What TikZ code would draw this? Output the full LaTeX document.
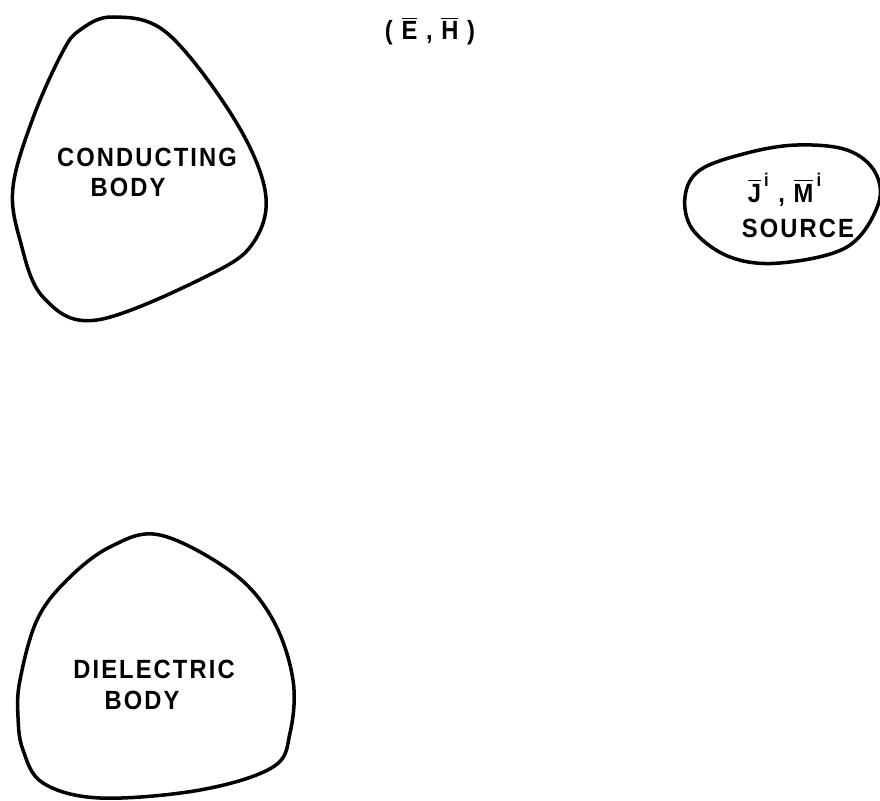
\documentclass[tikz,border=0pt]{standalone}
\usepackage{amsmath}
\usepackage{fontspec}
\usepackage{tikz}
\newfontfamily\letterfont[LetterSpace=8,FakeStretch=0.9]{Liberation Sans}

\begin{document}
\begin{tikzpicture}[x=0.02cm,y=-0.02cm,
  outline/.style={line width=2pt,line join=round},
  lbl/.style={font=\fontsize{15}{17}\letterfont\bfseries,inner sep=0pt}]
  \useasboundingbox (0,0) rectangle (880,801);
  % bodies and source
  \draw[outline] plot[smooth cycle,tension=0.6] coordinates {(113,17) (167,33) (233,117) (265,190) (255,240) (213,273) (97,320) (43,297) (20,240) (13,187) (33,118) (62,53) (80,30)};
  \draw[outline] plot[smooth cycle,tension=0.6] coordinates {(160,535) (233,573) (273,620) (293,680) (290,733) (273,767) (200,790) (100,798) (43,783) (23,750) (18,717) (20,680) (37,620) (67,580) (110,547)};
  \draw[outline] plot[smooth cycle,tension=0.6] coordinates {(685,197) (700,170) (747,153) (797,145) (847,150) (875,172) (878,205) (847,247) (780,263) (730,257) (693,230)};
  % labels
  \node[lbl] (field) at (430,31) {( $\overline{\text{E}}$ , $\overline{\text{H}}$ )};
  \node[lbl] (cond) at (147,157) {CONDUCTING};
  \node[lbl] (condbody) at (128,187) {BODY};
  \node[lbl] (diel) at (154,669) {DIELECTRIC};
  \node[lbl] (dielbody) at (142,700) {BODY};
  \node[lbl] (src) at (785,190) {$\overline{\text{J}}^{\,\text{i}}$ , $\overline{\text{M}}^{\,\text{i}}$};
  \node[lbl] (srcname) at (798,228) {SOURCE};
\end{tikzpicture}
\end{document}
